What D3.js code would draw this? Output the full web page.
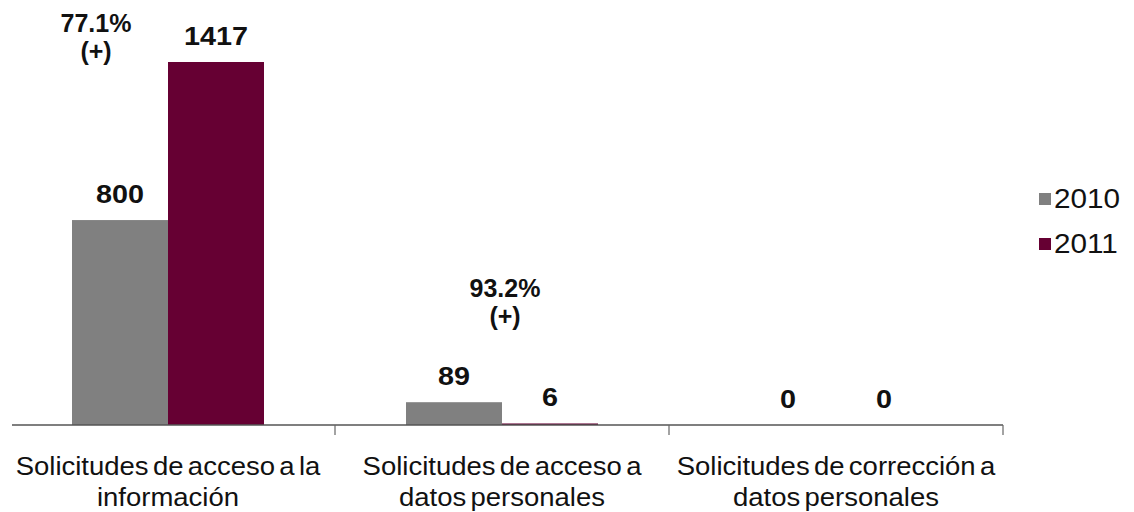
<!DOCTYPE html>
<html>
<head>
<meta charset="utf-8">
<script src="https://cdn.jsdelivr.net/npm/d3@7"></script>
<style>
  html, body { margin: 0; padding: 0; background: #fff; }
  svg { display: block; }
  text { font-family: Arial, "Liberation Sans", sans-serif; }
</style>
</head>
<body>
<svg id="chart" width="1134" height="512"></svg>
<script>
// Requests per category, 2010 vs 2011
const categories = [
  ["Solicitudes de acceso a la", "información"],
  ["Solicitudes de acceso a", "datos personales"],
  ["Solicitudes de corrección a", "datos personales"]
];
const years = ["2010", "2011"];
const values2010 = [800, 89, 0];
const values2011 = [1417, 6, 0];
const changeLabels = ["77.1%", "93.2%", null];
const colors = ["#808080", "#660033"];

const svg = d3.select("#chart");
const baseY = 425;

// helper: text placed at (x, y) with a horizontal stretch factor
function stretchedText(parent, x, y, sx, txt) {
  return parent.append("text")
    .attr("transform", `translate(${x},${y}) scale(${sx},1)`)
    .attr("text-anchor", "middle")
    .text(txt);
}

const x = d3.scaleBand()
  .domain(d3.range(categories.length))
  .range([1, 1003])
  .paddingInner(0)
  .paddingOuter(0);

const barW = 96;
const xs = d3.scaleBand()
  .domain(years)
  .range([x.bandwidth() / 2 - barW, x.bandwidth() / 2 + barW]);

const y = d3.scaleLinear()
  .domain([0, 1600])
  .range([baseY, baseY - 1600 * (363 / 1417)]);

const series = [values2010, values2011];

const groups = svg.selectAll("g.cat")
  .data(categories.map((c, i) => i))
  .join("g")
  .attr("class", "cat")
  .attr("transform", i => `translate(${x(i)},0)`);

// bars with value labels
groups.each(function(i) {
  const g = d3.select(this);
  years.forEach((yr, k) => {
    const v = series[k][i];
    g.append("rect")
      .attr("x", xs(yr))
      .attr("width", xs.bandwidth())
      .attr("y", y(v))
      .attr("height", baseY - y(v))
      .attr("fill", colors[k]);
    stretchedText(g, xs(yr) + xs.bandwidth() / 2, y(v) - 17, 1.15, v)
      .attr("font-size", 25)
      .attr("font-weight", "bold")
      .attr("fill", "#111");
  });
});

// percentage change notes
const changePos = [
  { i: 0, dx: -72, y: 32 },
  { i: 1, dx: 3, y: 297 }
];
changePos.forEach(p => {
  const cx = x(p.i) + x.bandwidth() / 2 + p.dx;
  const t = svg.append("text")
    .attr("text-anchor", "middle")
    .attr("font-size", 25)
    .attr("font-weight", "bold")
    .attr("fill", "#111");
  t.append("tspan").attr("x", cx).attr("y", p.y).text(changeLabels[p.i]);
  t.append("tspan").attr("x", cx).attr("y", p.y + 28).text("(+)");
});

// category axis
svg.append("line")
  .attr("x1", 12).attr("x2", 1003)
  .attr("y1", baseY).attr("y2", baseY)
  .attr("stroke", "#555").attr("stroke-width", 1.5);

const tickXs = d3.range(1, categories.length + 1).map(i => x(i - 1) + x.bandwidth());
svg.selectAll("line.tick")
  .data(tickXs)
  .join("line")
  .attr("class", "tick")
  .attr("x1", d => d).attr("x2", d => d)
  .attr("y1", baseY).attr("y2", baseY + 10)
  .attr("stroke", "#666").attr("stroke-width", 1.2);

groups.each(function(i) {
  const g = d3.select(this);
  categories[i].forEach((line, j) => {
    stretchedText(g, x.bandwidth() / 2, 475 + j * 31, 1.1, line)
      .attr("font-size", 25)
      .attr("word-spacing", -3)
      .attr("fill", "#111");
  });
});

// legend
const legend = svg.append("g").attr("transform", "translate(1039,0)");
years.forEach((yr, k) => {
  const ly = 208 + k * 45;
  legend.append("rect")
    .attr("x", 0).attr("y", ly - 15)
    .attr("width", 12).attr("height", 12)
    .attr("fill", colors[k]);
  legend.append("text")
    .attr("transform", `translate(15,${ly}) scale(1.1,1)`)
    .attr("font-size", 27)
    .attr("fill", "#111")
    .text(yr);
});
</script>
</body>
</html>
